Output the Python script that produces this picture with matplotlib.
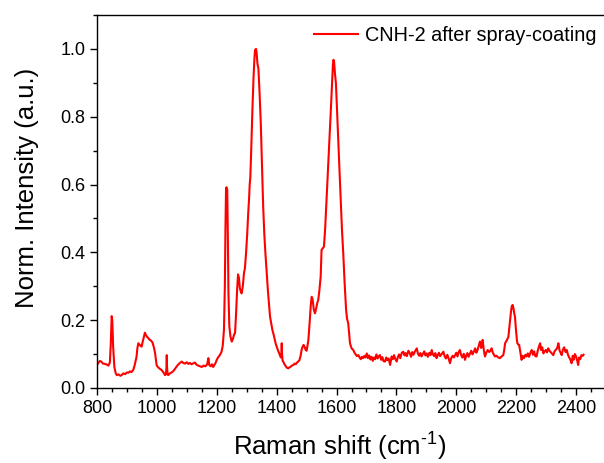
import numpy as np
import matplotlib
matplotlib.use("Agg")
import matplotlib.pyplot as plt
from matplotlib.ticker import MultipleLocator

plt.rcParams['font.family'] = ['Liberation Sans', 'DejaVu Sans']
plt.rcParams['mathtext.fontset'] = 'custom'
plt.rcParams['mathtext.rm'] = 'Liberation Sans'
plt.rcParams['mathtext.it'] = 'Liberation Sans'

# spectrum, split by region
shift_a = [800, 805, 810, 815, 820, 827, 833, 838, 843, 846, 849, 851, 854, 858, 862, 866, 872, 878, 882, 888,
           894, 900, 905, 910, 915, 921, 926, 932, 935, 938, 942, 946, 949, 953, 957, 960, 964, 968, 971, 975,
           980, 985, 990, 994, 997, 999, 1003, 1008, 1012, 1016, 1020, 1024, 1027, 1030, 1032, 1033, 1034, 1036,
           1038, 1042, 1047, 1051, 1055, 1060, 1065, 1070, 1076, 1083, 1088, 1094, 1100, 1105, 1110, 1116, 1122,
           1127, 1132, 1138, 1144, 1150, 1156, 1162, 1168, 1172, 1175, 1180, 1184, 1188, 1192, 1196, 1200]
inten_a = [0.068, 0.075, 0.080, 0.077, 0.072, 0.071, 0.069, 0.066, 0.075, 0.130, 0.212, 0.200, 0.120, 0.062,
           0.045, 0.038, 0.040, 0.036, 0.038, 0.043, 0.041, 0.046, 0.045, 0.049, 0.047, 0.053, 0.068, 0.092,
           0.118, 0.132, 0.128, 0.124, 0.122, 0.138, 0.152, 0.163, 0.155, 0.150, 0.148, 0.143, 0.140, 0.135,
           0.120, 0.103, 0.082, 0.068, 0.062, 0.058, 0.055, 0.053, 0.048, 0.043, 0.038, 0.040, 0.060, 0.097,
           0.060, 0.040, 0.038, 0.042, 0.045, 0.047, 0.050, 0.056, 0.062, 0.068, 0.073, 0.078, 0.074, 0.072,
           0.076, 0.071, 0.074, 0.070, 0.073, 0.075, 0.069, 0.066, 0.064, 0.062, 0.066, 0.064, 0.070, 0.088,
           0.068, 0.064, 0.070, 0.062, 0.068, 0.074, 0.083]

shift_b = [1204, 1208, 1212, 1216, 1220, 1224, 1227, 1229, 1231, 1233, 1235, 1237, 1239, 1242, 1246, 1250, 1254,
           1258, 1261, 1264, 1268, 1271, 1274, 1277, 1280, 1283, 1287, 1291, 1294, 1298, 1302, 1305, 1308, 1310,
           1312, 1315, 1319, 1323, 1326, 1328, 1331, 1333, 1336, 1339, 1343, 1347, 1351, 1355, 1359, 1363, 1367,
           1371, 1375, 1378, 1382, 1386, 1389, 1393, 1397, 1400, 1404, 1408, 1411, 1414, 1416, 1417, 1418, 1420,
           1422, 1426, 1430, 1434, 1439, 1443, 1447, 1451, 1456, 1460, 1464, 1468, 1472, 1476, 1480, 1484, 1487,
           1490, 1494, 1497, 1500, 1503, 1506]
inten_b = [0.090, 0.094, 0.100, 0.107, 0.125, 0.171, 0.300, 0.470, 0.590, 0.592, 0.585, 0.450, 0.280, 0.181,
           0.150, 0.137, 0.145, 0.158, 0.162, 0.210, 0.290, 0.335, 0.325, 0.295, 0.285, 0.279, 0.300, 0.340,
           0.353, 0.400, 0.460, 0.515, 0.560, 0.600, 0.620, 0.700, 0.820, 0.920, 0.975, 0.997, 1.000, 0.990,
           0.955, 0.943, 0.870, 0.781, 0.660, 0.535, 0.450, 0.390, 0.338, 0.285, 0.240, 0.210, 0.190, 0.170,
           0.161, 0.145, 0.130, 0.122, 0.112, 0.103, 0.097, 0.090, 0.100, 0.132, 0.100, 0.080, 0.078, 0.070,
           0.065, 0.060, 0.058, 0.061, 0.063, 0.066, 0.068, 0.072, 0.070, 0.075, 0.078, 0.082, 0.095, 0.115,
           0.122, 0.127, 0.120, 0.112, 0.110, 0.125, 0.142]

shift_c = [1510, 1514, 1517, 1520, 1524, 1528, 1532, 1536, 1539, 1543, 1547, 1550, 1554, 1558, 1562, 1565, 1569,
           1573, 1577, 1581, 1585, 1588, 1590, 1592, 1595, 1598, 1602, 1606, 1610, 1614, 1618, 1623, 1627, 1632,
           1635, 1639, 1642, 1645, 1649, 1652, 1656, 1660, 1664, 1668, 1673, 1677, 1681, 1685, 1689, 1693, 1697,
           1701]
inten_c = [0.190, 0.245, 0.269, 0.262, 0.232, 0.220, 0.235, 0.252, 0.260, 0.290, 0.328, 0.407, 0.412, 0.417,
           0.470, 0.525, 0.600, 0.673, 0.750, 0.820, 0.900, 0.955, 0.968, 0.960, 0.925, 0.899, 0.810, 0.722,
           0.640, 0.555, 0.470, 0.387, 0.310, 0.230, 0.205, 0.191, 0.160, 0.132, 0.120, 0.115, 0.112, 0.104,
           0.099, 0.094, 0.097, 0.090, 0.085, 0.092, 0.088, 0.095, 0.090, 0.102]

shift_d = [1705, 1709, 1713, 1717, 1721, 1725, 1729, 1733, 1737, 1741, 1745, 1749, 1753, 1757, 1762, 1766, 1770,
           1774, 1779, 1784, 1788, 1792, 1796, 1801, 1805, 1809, 1813, 1818, 1823, 1827, 1831, 1835, 1840, 1845,
           1849, 1853, 1857, 1862, 1868, 1872, 1876, 1880, 1884, 1888, 1893, 1897, 1901, 1905, 1910, 1914, 1918,
           1922, 1926, 1930, 1934, 1938, 1942, 1946, 1951, 1957, 1961, 1965, 1970, 1975, 1979, 1983, 1988, 1992,
           1996, 2000, 2004, 2008, 2012, 2016, 2020, 2025, 2029, 2033, 2037, 2041, 2046, 2050, 2054, 2058, 2063,
           2067, 2071, 2075, 2079, 2083, 2086, 2088, 2091, 2094, 2096, 2100, 2105, 2110, 2114, 2118, 2122, 2126,
           2129, 2134, 2139, 2143, 2146, 2150, 2154, 2157, 2160, 2163, 2167, 2171, 2174, 2178, 2182, 2185, 2188,
           2191, 2194, 2196, 2199, 2202, 2204, 2207, 2210, 2214, 2218, 2222, 2226, 2231, 2235, 2239, 2243, 2248,
           2252, 2256, 2260, 2264, 2268, 2272, 2276, 2280, 2283, 2287, 2291, 2295, 2299, 2303, 2307, 2311, 2315,
           2320, 2324, 2328, 2332, 2337, 2341, 2345, 2349, 2352, 2356, 2360, 2365, 2369, 2373, 2377, 2381, 2385,
           2389, 2392, 2396, 2400, 2404, 2407, 2410, 2414, 2418, 2422, 2425]
inten_d = [0.088, 0.096, 0.084, 0.092, 0.080, 0.090, 0.085, 0.099, 0.087, 0.094, 0.097, 0.083, 0.091, 0.079,
           0.078, 0.090, 0.082, 0.087, 0.068, 0.093, 0.085, 0.097, 0.086, 0.078, 0.092, 0.099, 0.088, 0.104,
           0.107, 0.096, 0.103, 0.094, 0.110, 0.102, 0.092, 0.106, 0.098, 0.108, 0.117, 0.101, 0.095, 0.103,
           0.093, 0.100, 0.108, 0.096, 0.102, 0.092, 0.104, 0.097, 0.112, 0.099, 0.094, 0.103, 0.088, 0.097,
           0.104, 0.094, 0.100, 0.107, 0.094, 0.087, 0.098, 0.085, 0.073, 0.088, 0.095, 0.090, 0.097, 0.104,
           0.093, 0.106, 0.112, 0.098, 0.090, 0.101, 0.083, 0.095, 0.103, 0.092, 0.102, 0.110, 0.099, 0.106,
           0.117, 0.104, 0.112, 0.125, 0.137, 0.118, 0.128, 0.142, 0.118, 0.100, 0.093, 0.104, 0.112, 0.106,
           0.110, 0.117, 0.104, 0.098, 0.093, 0.095, 0.091, 0.089, 0.088, 0.092, 0.095, 0.097, 0.112, 0.132,
           0.138, 0.145, 0.151, 0.185, 0.220, 0.240, 0.245, 0.235, 0.218, 0.210, 0.175, 0.145, 0.132, 0.128,
           0.127, 0.105, 0.083, 0.095, 0.088, 0.098, 0.093, 0.102, 0.092, 0.105, 0.112, 0.098, 0.108, 0.094,
           0.093, 0.110, 0.122, 0.132, 0.112, 0.120, 0.102, 0.108, 0.112, 0.105, 0.117, 0.110, 0.106, 0.101,
           0.097, 0.108, 0.112, 0.118, 0.132, 0.110, 0.103, 0.097, 0.113, 0.120, 0.106, 0.112, 0.098, 0.090,
           0.084, 0.073, 0.095, 0.083, 0.100, 0.093, 0.080, 0.068, 0.090, 0.085, 0.097, 0.095, 0.098]

shift = shift_a + shift_b + shift_c + shift_d
inten = inten_a + inten_b + inten_c + inten_d

fig = plt.figure(figsize=(6.04, 4.63), dpi=100)
W, H = 604, 463
ax = fig.add_axes([97 / W, (H - 388) / H, (606 - 97) / W, (388 - 15) / H])

ax.plot(shift, inten, color='red', linewidth=1.5, label='CNH-2 after spray-coating')

ax.set_xlim(800, 2500)
ax.set_ylim(0, 1.1)
ax.xaxis.set_major_locator(MultipleLocator(200))
ax.xaxis.set_minor_locator(MultipleLocator(50))
ax.yaxis.set_major_locator(MultipleLocator(0.2))
ax.yaxis.set_minor_locator(MultipleLocator(0.1))
ax.yaxis.set_major_formatter(plt.FuncFormatter(lambda v, p: f'{v:.1f}'))
ax.tick_params(which='both', direction='out', top=False, right=False, width=1.0, labelsize=13)
ax.tick_params(which='major', length=5)
ax.tick_params(which='minor', length=3)
for s in ax.spines.values():
    s.set_linewidth(1.0)

ax.set_xlabel('Raman shift (cm$^{\\text{-1}}$)', fontsize=18.5, va='center')
ax.xaxis.set_label_coords(0.477, (388 - 447) / 373)
ax.set_ylabel('Norm. Intensity (a.u.)', fontsize=18.5, va='center')
ax.yaxis.set_label_coords((27.5 - 97) / 509, (388 - 188) / 373)

fig.legend(loc='upper right', bbox_to_anchor=(604 / W, 1 - 18 / H), frameon=False,
           fontsize=14.3, handlelength=2.2, handletextpad=0.35, borderaxespad=0)

fig.savefig('out.png', dpi=100)
